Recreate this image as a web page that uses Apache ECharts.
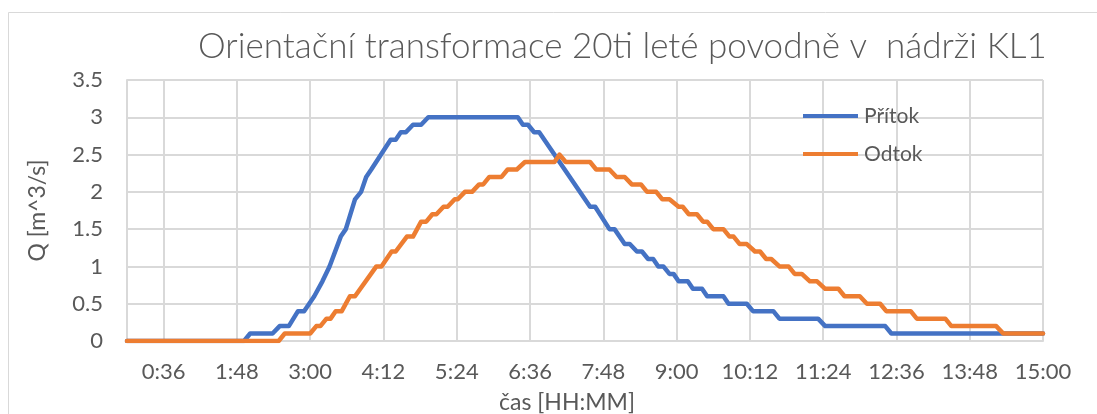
<!DOCTYPE html>
<html>
<head>
<meta charset="utf-8">
<script src="https://cdn.jsdelivr.net/npm/echarts@6/dist/echarts.min.js"></script>
<style>
  html, body { margin: 0; padding: 0; background: #ffffff; }
  #chart { width: 1097px; height: 414px; }
</style>
</head>
<body>
<div id="chart"></div>
<script>
// Time in minutes from the start of the flood, discharge in m^3/s
const pritokTime = [0, 115, 121, 143, 150, 159, 168, 174, 184, 192, 199, 210, 215, 224, 230, 235, 240, 259, 264, 269, 274, 281, 289, 296, 384, 389, 394, 400, 405, 455, 460, 474, 479, 489, 494, 501, 506, 512, 517, 522, 527, 533, 537, 542, 551, 556, 565, 570, 586, 591, 609, 615, 635, 641, 679, 686, 745, 751, 900];
const pritokQ    = [0, 0, 0.1, 0.1, 0.2, 0.2, 0.4, 0.4, 0.6, 0.8, 1.0, 1.4, 1.5, 1.9, 2.0, 2.2, 2.3, 2.7, 2.7, 2.8, 2.8, 2.9, 2.9, 3.0, 3.0, 2.9, 2.9, 2.8, 2.8, 1.8, 1.8, 1.5, 1.5, 1.3, 1.3, 1.2, 1.2, 1.1, 1.1, 1.0, 1.0, 0.9, 0.9, 0.8, 0.8, 0.7, 0.7, 0.6, 0.6, 0.5, 0.5, 0.4, 0.4, 0.3, 0.3, 0.2, 0.2, 0.1, 0.1];

const odtokTime = [0, 149, 155, 180, 186, 190, 196, 200, 205, 211, 219, 224, 245, 250, 260, 264, 275, 281, 289, 294, 300, 304, 311, 315, 322, 325, 332, 339, 346, 350, 356, 368, 374, 383, 391, 420, 425, 431, 455, 461, 474, 481, 489, 496, 505, 511, 520, 526, 533, 542, 546, 552, 560, 566, 570, 576, 586, 592, 596, 602, 609, 617, 622, 628, 633, 641, 650, 656, 663, 671, 678, 686, 699, 705, 720, 727, 740, 746, 770, 776, 804, 810, 854, 861, 900];
const odtokQ    = [0, 0, 0.1, 0.1, 0.2, 0.2, 0.3, 0.3, 0.4, 0.4, 0.6, 0.6, 1.0, 1.0, 1.2, 1.2, 1.4, 1.4, 1.6, 1.6, 1.7, 1.7, 1.8, 1.8, 1.9, 1.9, 2.0, 2.0, 2.1, 2.1, 2.2, 2.2, 2.3, 2.3, 2.4, 2.4, 2.5, 2.4, 2.4, 2.3, 2.3, 2.2, 2.2, 2.1, 2.1, 2.0, 2.0, 1.9, 1.9, 1.8, 1.8, 1.7, 1.7, 1.6, 1.6, 1.5, 1.5, 1.4, 1.4, 1.3, 1.3, 1.2, 1.2, 1.1, 1.1, 1.0, 1.0, 0.9, 0.9, 0.8, 0.8, 0.7, 0.7, 0.6, 0.6, 0.5, 0.5, 0.4, 0.4, 0.3, 0.3, 0.2, 0.2, 0.1, 0.1];

// Time axis labels (minutes): 0:36, 1:48, ... 15:00
const timeTicks = [36, 108, 180, 252, 324, 396, 468, 540, 612, 684, 756, 828, 900];

const seriesNames = ['Přítok', 'Odtok'];
const titleText = 'Orientační transformace 20ti leté povodně v  nádrži KL1';

function toPairs(t, q) { return t.map((v, i) => [v, q[i]]); }
function hhmm(m) {
  const h = Math.floor(m / 60);
  const mm = Math.round(m - h * 60);
  return h + ':' + (mm < 10 ? '0' : '') + mm;
}

const FONT = 'Lato';
const TXT = '#595959';
const GRID = '#d9d9d9';

const chart = echarts.init(document.getElementById('chart'), null, { renderer: 'canvas' });
chart.setOption({
  animation: false,
  backgroundColor: '#ffffff',
  graphic: [{
    type: 'rect',
    shape: { x: 8.5, y: 12.5, width: 1100, height: 410 },
    style: { fill: 'none', stroke: '#d9d9d9', lineWidth: 1 },
    silent: true
  }],
  title: {
    text: titleText,
    left: 198,
    top: 29,
    padding: 0,
    textStyle: { fontFamily: FONT, fontWeight: 300, fontSize: 35, color: TXT }
  },
  legend: {
    orient: 'vertical',
    left: 803,
    top: 104,
    padding: 0,
    itemWidth: 55,
    itemHeight: 4,
    itemGap: 14,
    icon: 'rect',
    data: seriesNames,
    textStyle: { fontFamily: FONT, fontSize: 21, color: TXT, lineHeight: 24, padding: [0, 0, 0, 1] }
  },
  grid: { left: 127, right: 54, top: 80, bottom: 73, containLabel: false, outerBoundsMode: 'none' },
  xAxis: {
    type: 'value',
    min: 0,
    max: 900,
    name: 'čas [HH:MM]',
    nameLocation: 'middle',
    nameGap: 50,
    nameTextStyle: { fontFamily: FONT, fontSize: 23, color: TXT, padding: [0, 36, 0, 0] },
    axisLine: { show: true, lineStyle: { color: GRID, width: 2 } },
    axisTick: { show: false, customValues: timeTicks },
    axisLabel: {
      customValues: timeTicks,
      formatter: hhmm,
      margin: 20,
      fontFamily: FONT, fontSize: 22, color: TXT
    },
    splitLine: { show: true, lineStyle: { color: GRID, width: 2 } }
  },
  yAxis: {
    type: 'value',
    min: 0,
    max: 3.5,
    interval: 0.5,
    name: 'Q [m^3/s]',
    nameLocation: 'middle',
    nameGap: 78,
    nameTextStyle: { fontFamily: FONT, fontSize: 23, color: TXT },
    axisLine: { show: true, lineStyle: { color: GRID, width: 2 } },
    axisTick: { show: false },
    axisLabel: { margin: 24, fontFamily: FONT, fontSize: 22, color: TXT },
    splitLine: { show: true, lineStyle: { color: GRID, width: 2 } }
  },
  series: [
    {
      name: seriesNames[0],
      type: 'line',
      data: toPairs(pritokTime, pritokQ),
      symbol: 'none',
      color: '#4472C4',
      lineStyle: { width: 4.5, color: '#4472C4', join: 'round', cap: 'round' }
    },
    {
      name: seriesNames[1],
      type: 'line',
      data: toPairs(odtokTime, odtokQ),
      symbol: 'none',
      color: '#ED7D31',
      lineStyle: { width: 4.5, color: '#ED7D31', join: 'round', cap: 'round' }
    }
  ]
});
</script>
</body>
</html>
